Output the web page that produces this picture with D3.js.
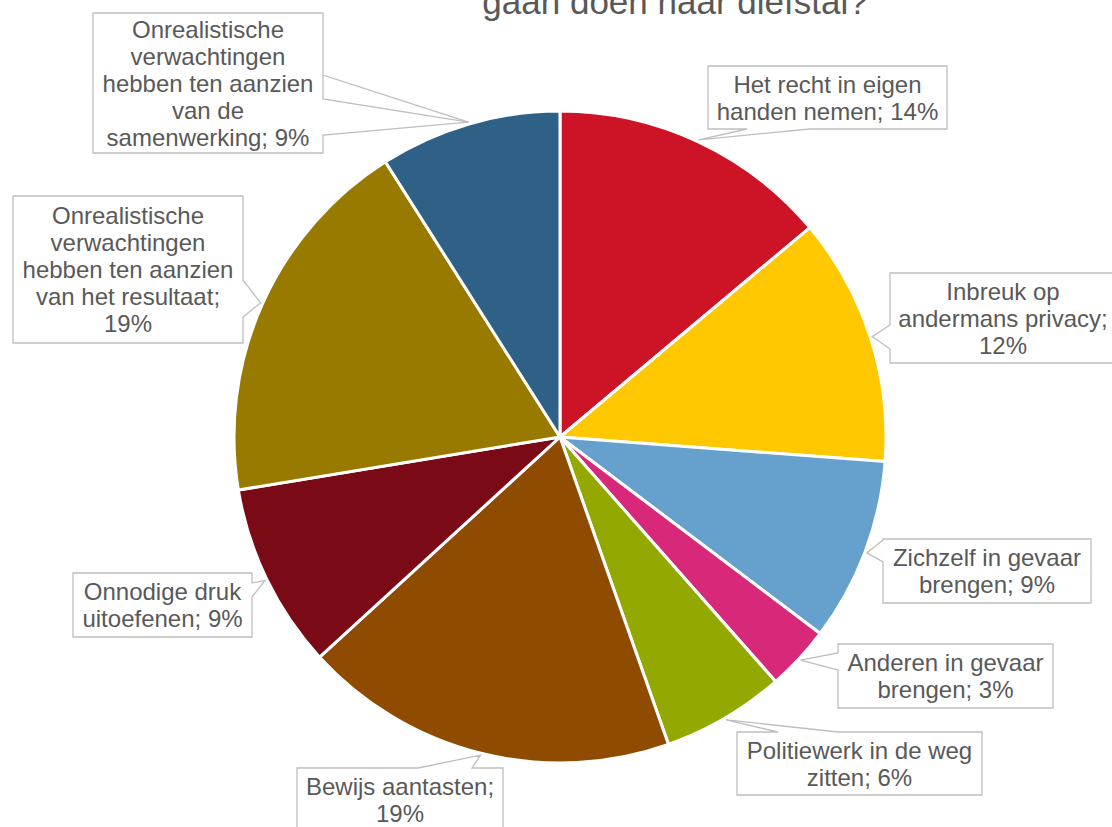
<!DOCTYPE html>
<html lang="nl">
<head>
<meta charset="UTF-8">
<title>Risico's</title>
<script src="https://cdn.jsdelivr.net/npm/d3@7"></script>
<style>
body { margin: 0; background: #fff; }
text { font-family: "Liberation Sans", Arial, sans-serif; fill: #595959; }
</style>
</head>
<body>
<script>
var categories = [
    "Het recht in eigen handen nemen",
    "Inbreuk op andermans privacy",
    "Zichzelf in gevaar brengen",
    "Anderen in gevaar brengen",
    "Politiewerk in de weg zitten",
    "Bewijs aantasten",
    "Onnodige druk uitoefenen",
    "Onrealistische verwachtingen hebben ten aanzien van het resultaat",
    "Onrealistische verwachtingen hebben ten aanzien van de samenwerking"
];
// shares in %
var values = [13.9, 12.3, 9.1, 3.2, 6.1, 18.6, 9.2, 18.6, 9.0];
var colors = ["#CC1426", "#FFC800", "#66A0CC", "#D8287A", "#93A800",
              "#8F4C00", "#7A0A16", "#987A00", "#2E6185"];
// how each callout wraps; {p} is the percentage
var labelLines = [
    ["Het recht in eigen", "handen nemen; {p}"],
    ["Inbreuk op", "andermans privacy;", "{p}"],
    ["Zichzelf in gevaar", "brengen; {p}"],
    ["Anderen in gevaar", "brengen; {p}"],
    ["Politiewerk in de weg", "zitten; {p}"],
    ["Bewijs aantasten;", "{p}"],
    ["Onnodige druk", "uitoefenen; {p}"],
    ["Onrealistische", "verwachtingen", "hebben ten aanzien", "van het resultaat;", "{p}"],
    ["Onrealistische", "verwachtingen", "hebben ten aanzien", "van de", "samenwerking; {p}"]
];
var titleLine = "gaan doen naar diefstal?";

// callout boxes: position, side the pointer leaves from, and its base along that side
var boxes = [
    {x: 708, y: 66, w: 239, h: 63, side: "bottom", b: [747, 810]},
    {x: 890, y: 273, w: 226, h: 90, side: "left", b: [325, 349]},
    {x: 883, y: 539, w: 208, h: 64, side: "left", b: [540, 562]},
    {x: 838, y: 644, w: 215, h: 64, side: "left", b: [653, 670]},
    {x: 737, y: 732, w: 245, h: 63, side: "top", b: [778, 838]},
    {x: 297, y: 768, w: 206, h: 64, side: "top", b: [418, 472]},
    {x: 73, y: 573, w: 179, h: 64, side: "right", b: [583, 597]},
    {x: 13, y: 196, w: 230, h: 147, side: "right", b: [280, 317]},
    {x: 93, y: 13, w: 230, h: 140, side: "right", b: [75, 135], extra: 99}
];

var width = 1112, height = 827;
var cx = 560, cy = 437, radius = 326;

var svg = d3.select("body").append("svg")
    .attr("width", width).attr("height", height);

svg.append("text")
    .attr("x", 675).attr("y", 14)
    .attr("text-anchor", "middle")
    .style("font-size", "35px")
    .text(titleLine);

var total = d3.sum(values);
var pie = d3.pie().sort(null).value(function(d) { return d; });
var arcs = pie(values);
var arc = d3.arc().innerRadius(0).outerRadius(radius);

var g = svg.append("g").attr("transform", "translate(" + cx + "," + cy + ")");
g.selectAll("path.slice")
    .data(arcs)
    .enter().append("path")
    .attr("class", "slice")
    .attr("d", arc)
    .attr("fill", function(d, i) { return colors[i]; })
    .attr("stroke", "#fff")
    .attr("stroke-width", 3)
    .attr("stroke-linejoin", "round");

function tipOf(a) {
    var m = (a.startAngle + a.endAngle) / 2;
    return [cx + (radius + 2) * Math.sin(m), cy - (radius + 2) * Math.cos(m)];
}

function calloutPath(bx, tip) {
    var x0 = bx.x, y0 = bx.y, x1 = bx.x + bx.w, y1 = bx.y + bx.h;
    var p = [[x0, y0]];
    if (bx.side === "top") p.push([bx.b[0], y0], tip, [bx.b[1], y0]);
    p.push([x1, y0]);
    if (bx.side === "right") p.push([x1, bx.b[0]], tip, [x1, bx.b[1]]);
    p.push([x1, y1]);
    if (bx.side === "bottom") p.push([bx.b[1], y1], tip, [bx.b[0], y1]);
    p.push([x0, y1]);
    if (bx.side === "left") p.push([x0, bx.b[1]], tip, [x0, bx.b[0]]);
    return "M" + p.map(function(q) { return q.join(","); }).join("L") + "Z";
}

var lh = 27, fs = 24;
var labels = svg.append("g");
arcs.forEach(function(a, i) {
    var bx = boxes[i], tip = tipOf(a);
    var pct = Math.round(values[i] / total * 100) + "%";
    labels.append("path")
        .attr("d", calloutPath(bx, tip))
        .attr("fill", "#fff")
        .attr("stroke", "#BFBFBF")
        .attr("stroke-width", 1.3);
    if (bx.extra) {
        labels.append("path")
            .attr("d", "M" + (bx.x + bx.w) + "," + bx.b[0] + "L" + (bx.x + bx.w) + "," + bx.extra + "L" + tip.join(","))
            .attr("fill", "none")
            .attr("stroke", "#BFBFBF")
            .attr("stroke-width", 1.3);
    }
    var lines = labelLines[i];
    var midY = bx.y + bx.h / 2;
    var first = midY - (lines.length - 1) / 2 * lh + fs * 0.36;
    var t = labels.append("text")
        .attr("text-anchor", "middle")
        .style("font-size", fs + "px");
    lines.forEach(function(s, k) {
        t.append("tspan")
            .attr("x", bx.x + bx.w / 2)
            .attr("y", first + k * lh)
            .text(s.replace("{p}", pct));
    });
});
</script>
</body>
</html>
